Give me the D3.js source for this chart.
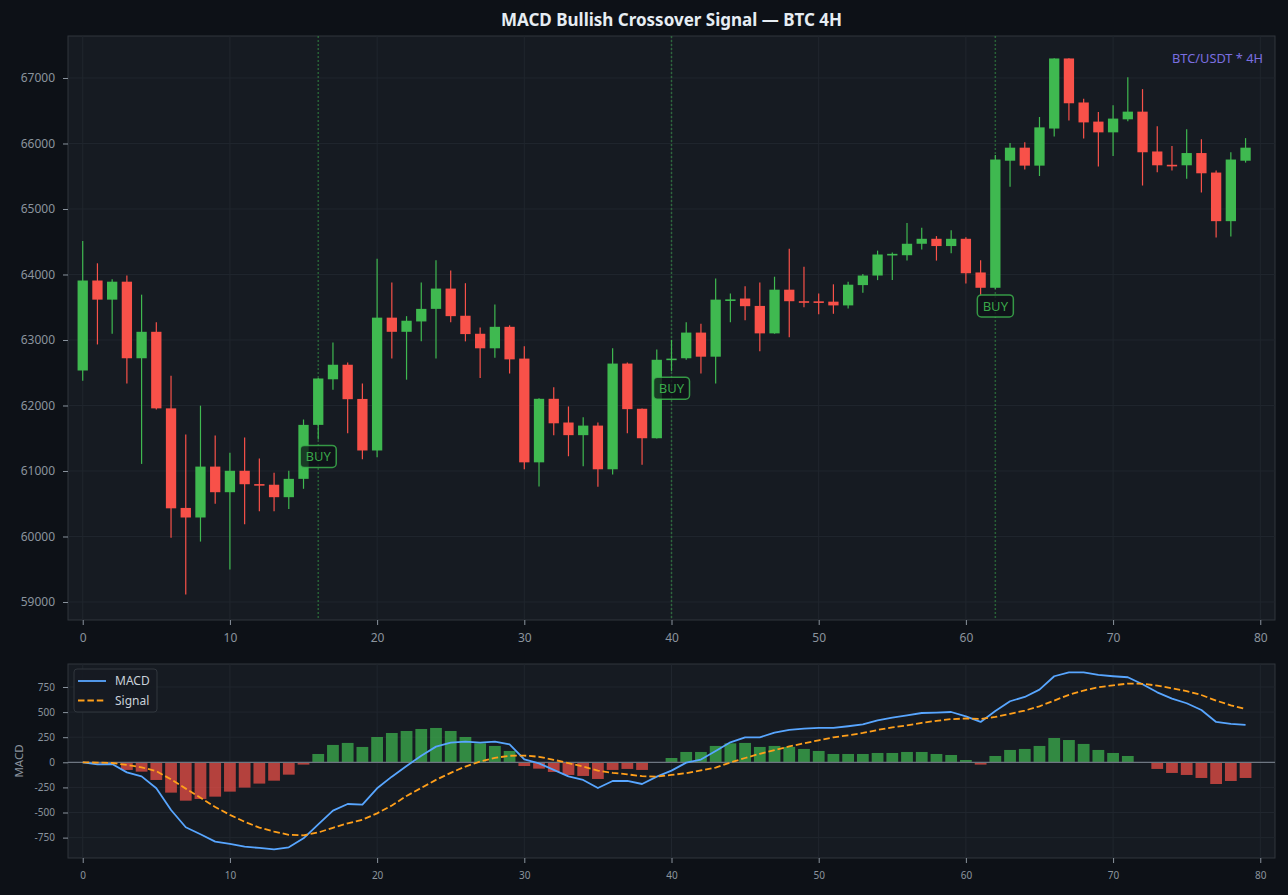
<!DOCTYPE html>
<html>
<head>
<meta charset="utf-8">
<script src="https://cdn.jsdelivr.net/npm/d3@7"></script>
<style>
  body { margin: 0; background: #0d1117; }
  svg { display: block; font-family: "Noto Sans", "Open Sans", sans-serif; }
</style>
</head>
<body>
<div id="container"></div>
<script>
// candles (index 0..79)
const opens = [62534,63908,63616,63890,62721,63125,61956,60436,60290,61067,
  60676,61003,60800,60790,60600,60880,61704,62400,62622,62100,
  61313,63341,63125,63283,63475,63785,63370,63095,62873,63201,
  62716,61132,62102,61740,61547,61693,61026,62640,61950,61500,
  62700,62721,63113,62745,63610,63633,63520,63101,63768,63592,
  63590,63585,63528,63838,63984,64305,64294,64469,64545,64434,
  64545,64031,63797,65737,65936,65662,66228,67298,66626,66334,
  66170,66369,66486,65878,65675,65667,65854,65556,64814,65737];
const highs = [64510,64171,63926,63984,63692,63271,62453,61558,61997,61541,
  61278,61512,61190,60974,61003,61786,62420,62961,62657,62336,
  64241,63879,63364,63879,64218,64060,63867,63189,63540,63224,
  62903,62110,62277,61985,61821,61740,62873,62657,61955,62856,
  63002,63271,63248,63937,63709,63820,63879,63966,64393,64118,
  63709,63850,63890,64007,64364,64335,64785,64715,64586,64674,
  64568,64218,65825,66006,66018,66404,67300,67300,66684,66480,
  66585,67012,66830,66264,65960,66217,66065,65586,65866,66082];
const lows = [62377,62932,63096,62336,61108,61940,59980,59115,59922,60500,
  59495,60185,60384,60384,60419,60728,61482,62242,61576,61178,
  61208,62716,62394,62979,62716,63271,62979,62418,62727,62488,
  61026,60763,61547,61225,61073,60758,60945,61576,61097,61495,
  62523,62700,62488,62336,63271,63300,62827,63095,63043,63499,
  63394,63400,63481,63721,63914,63914,64212,64381,64212,64323,
  63861,63692,63779,65340,65603,65504,66106,66351,66076,65650,
  65808,66340,65358,65562,65586,65463,65252,64563,64580,65708];
const closes = [63908,63616,63890,62721,63125,61956,60430,60290,61067,60676,
  61003,60798,60790,60600,60880,61704,62412,62622,62096,61313,
  63341,63125,63294,63475,63785,63364,63090,62873,63201,62704,
  61132,62102,61728,61547,61693,61026,62640,61944,61500,62698,
  62716,63113,62745,63616,63620,63516,63101,63768,63592,63580,
  63575,63528,63844,63984,64305,64315,64469,64545,64434,64545,
  64019,63797,65755,65936,65662,66246,67298,66614,66322,66170,
  66380,66486,65866,65667,65665,65854,65545,64814,65755,65936];

// MACD panel
const macdLine = [0,-20,-17,-100,-140,-259,-475,-647,-717,-790,
  -813,-840,-853,-867,-847,-757,-618,-481,-415,-422,
  -259,-143,-37,66,156,196,206,196,206,179,
  30,-10,-76,-140,-176,-256,-186,-186,-216,-143,
  -83,-3,27,113,199,249,249,295,322,335,
  342,342,359,378,418,445,468,491,495,501,
  458,402,511,608,651,724,857,896,896,870,
  857,847,777,697,634,588,521,402,382,372];
const signalLine = [0,-3,-7,-26,-50,-88,-170,-262,-352,-445,
  -523,-592,-650,-690,-722,-727,-699,-652,-608,-572,
  -508,-430,-335,-255,-175,-105,-42,7,44,65,
  67,55,25,-8,-42,-83,-105,-120,-138,-143,
  -126,-108,-81,-52,-2,43,85,121,158,190,
  219,249,269,292,322,348,368,393,413,430,
  436,432,452,483,515,558,615,672,715,747,
  767,784,782,764,738,709,670,614,568,530];
const histogram = [0,-12,-10,-76,-93,-176,-302,-382,-365,-342,
  -292,-252,-212,-183,-123,-23,83,173,193,153,
  252,292,312,332,342,312,252,189,163,113,
  -37,-63,-96,-126,-136,-166,-76,-66,-76,-3,
  43,103,103,163,189,193,153,163,153,133,
  113,83,83,83,93,93,103,103,83,73,
  23,-23,63,123,133,163,242,222,183,123,
  93,63,-3,-66,-106,-126,-156,-216,-186,-156];

const buySignals = [16, 40, 62];
const seriesNames = ["MACD", "Signal"];
const xTicks = d3.range(0, 81, 10);
const priceTicks = d3.range(59000, 67001, 1000);
const macdTicks = [-750, -500, -250, 0, 250, 500, 750];

const candles = opens.map((o, i) => ({i, o, h: highs[i], l: lows[i], c: closes[i]}));

const width = 1288, height = 895;
const main = {left: 68, right: 1275, top: 36, bottom: 620};
const sub = {left: 68, right: 1275, top: 664, bottom: 858};

const up = "#3fb950", down = "#f85149";
const tickColor = "#8b949e";

const svg = d3.select("#container").append("svg")
    .attr("width", width).attr("height", height)
    .attr("viewBox", [0, 0, width, height]);

svg.append("rect").attr("width", width).attr("height", height).attr("fill", "#0d1117");

const x = d3.scaleLinear([-1, 81], [main.left, main.right]);
const y = d3.scaleLinear([58725, 67641], [main.bottom, main.top]);
const ym = d3.scaleLinear([-953, 979], [sub.bottom, sub.top]);

// panels
[main, sub].forEach(p => svg.append("rect")
    .attr("x", p.left).attr("y", p.top)
    .attr("width", p.right - p.left).attr("height", p.bottom - p.top)
    .attr("fill", "#161b22").attr("stroke", "#30363d").attr("stroke-width", 1));

const grid = (g, p, yScale, yTicks) => g
    .attr("stroke", "#20262e").attr("stroke-width", 1)
    .call(g => g.append("g").selectAll("line").data(xTicks).join("line")
        .attr("x1", d => x(d)).attr("x2", d => x(d))
        .attr("y1", p.top).attr("y2", p.bottom))
    .call(g => g.append("g").selectAll("line").data(yTicks).join("line")
        .attr("y1", d => yScale(d)).attr("y2", d => yScale(d))
        .attr("x1", p.left).attr("x2", p.right));

svg.append("g").call(grid, main, y, priceTicks);
svg.append("g").call(grid, sub, ym, macdTicks);

const styleAxis = (g, size) => g
    .call(g => g.select(".domain").remove())
    .call(g => g.selectAll(".tick line").attr("stroke", tickColor).attr("stroke-width", 1))
    .call(g => g.selectAll(".tick text").attr("fill", tickColor).attr("font-size", size)
        .attr("font-family", '"Noto Sans", "Open Sans", sans-serif'));

svg.append("g")
    .attr("transform", `translate(0,${main.bottom})`)
    .call(d3.axisBottom(x).tickValues(xTicks).tickSize(5).tickPadding(8))
    .call(styleAxis, 12);
svg.append("g")
    .attr("transform", `translate(${main.left},0)`)
    .call(d3.axisLeft(y).tickValues(priceTicks).tickFormat(d3.format("d")).tickSize(5).tickPadding(8))
    .call(styleAxis, 12);
svg.append("g")
    .attr("transform", `translate(0,${sub.bottom})`)
    .call(d3.axisBottom(x).tickValues(xTicks).tickSize(5).tickPadding(8.5))
    .call(styleAxis, 10);
svg.append("g")
    .attr("transform", `translate(${sub.left},0)`)
    .call(d3.axisLeft(ym).tickValues(macdTicks).tickFormat(d => String(d)).tickSize(5).tickPadding(8))
    .call(styleAxis, 10);

// buy signal lines
svg.append("g").selectAll("line").data(buySignals).join("line")
    .attr("x1", d => x(d)).attr("x2", d => x(d))
    .attr("y1", main.top).attr("y2", main.bottom)
    .attr("stroke", up).attr("stroke-opacity", 0.45)
    .attr("stroke-width", 1.5).attr("stroke-dasharray", "2,2");

// candles
const bw = (x(0.7) - x(0));
const candle = svg.append("g").selectAll("g").data(candles).join("g")
    .attr("fill", d => d.c >= d.o ? up : down)
    .attr("stroke", d => d.c >= d.o ? up : down);
candle.append("line")
    .attr("x1", d => x(d.i)).attr("x2", d => x(d.i))
    .attr("y1", d => y(d.h)).attr("y2", d => y(d.l))
    .attr("stroke-width", 1.2);
candle.append("rect")
    .attr("stroke", "none")
    .attr("x", d => x(d.i) - bw / 2).attr("width", bw)
    .attr("y", d => Math.min(y(d.o), y(d.c)))
    .attr("height", d => Math.max(1.6, Math.abs(y(d.o) - y(d.c))));

// BUY labels
const buy = svg.append("g").selectAll("g").data(buySignals).join("g")
    .attr("transform", d => `translate(${x(d)},${y(lows[d]) + 17})`);
buy.append("rect")
    .attr("x", -18).attr("y", -11).attr("width", 36).attr("height", 22).attr("rx", 4)
    .attr("fill", "#0d1117").attr("fill-opacity", 0.75)
    .attr("stroke", up).attr("stroke-opacity", 0.8).attr("stroke-width", 1.5);
buy.append("text")
    .attr("text-anchor", "middle").attr("dy", "0.36em")
    .attr("font-size", 13).attr("fill", up).attr("fill-opacity", 0.9)
    .text("BUY");

svg.append("text")
    .attr("x", 1263).attr("y", 63).attr("text-anchor", "end")
    .attr("font-size", 12.8).attr("fill", "#7b6fe0")
    .text("BTC/USDT * 4H");

// MACD panel marks
const hw = x(0.8) - x(0);
svg.append("g").selectAll("rect").data(histogram).join("rect")
    .attr("x", (d, i) => x(i) - hw / 2).attr("width", hw)
    .attr("y", d => Math.min(ym(d), ym(0)))
    .attr("height", d => Math.abs(ym(d) - ym(0)))
    .attr("fill", d => d >= 0 ? up : down).attr("fill-opacity", 0.7);

svg.append("line")
    .attr("x1", sub.left).attr("x2", sub.right)
    .attr("y1", ym(0)).attr("y2", ym(0))
    .attr("stroke", "#6e7681").attr("stroke-width", 1.3);

const line = d3.line().x((d, i) => x(i)).y(d => ym(d));
svg.append("path").datum(macdLine).attr("d", line)
    .attr("fill", "none").attr("stroke", "#58a6ff").attr("stroke-width", 1.8)
    .attr("stroke-linejoin", "round");
svg.append("path").datum(signalLine).attr("d", line)
    .attr("fill", "none").attr("stroke", "#ff9f1a").attr("stroke-width", 1.8)
    .attr("stroke-dasharray", "6.5,2.9");

// legend
const legend = svg.append("g").attr("transform", "translate(74,669)");
legend.append("rect").attr("width", 83).attr("height", 43).attr("rx", 3)
    .attr("fill", "#161b22").attr("fill-opacity", 0.9).attr("stroke", "#30363d");
const item = legend.selectAll("g.item").data(seriesNames).join("g")
    .attr("class", "item")
    .attr("transform", (d, i) => `translate(0,${12 + i * 19.5})`);
item.append("line")
    .attr("x1", 4).attr("x2", 32)
    .attr("stroke", (d, i) => i ? "#ff9f1a" : "#58a6ff").attr("stroke-width", 1.8)
    .attr("stroke-dasharray", (d, i) => i ? "6.5,2.9" : null);
item.append("text")
    .attr("x", 41).attr("dy", "0.35em")
    .attr("font-size", 12).attr("fill", "#c9d1d9")
    .text(d => d);

svg.append("text")
    .attr("transform", `translate(23,${(sub.top + sub.bottom) / 2}) rotate(-90)`)
    .attr("text-anchor", "middle")
    .attr("font-size", 11.5).attr("fill", tickColor)
    .text("MACD");

svg.append("text")
    .attr("x", (main.left + main.right) / 2).attr("y", 26)
    .attr("text-anchor", "middle")
    .attr("font-size", 17).attr("font-weight", "bold").attr("fill", "#e6edf3")
    .text("MACD Bullish Crossover Signal — BTC 4H");
</script>
</body>
</html>
